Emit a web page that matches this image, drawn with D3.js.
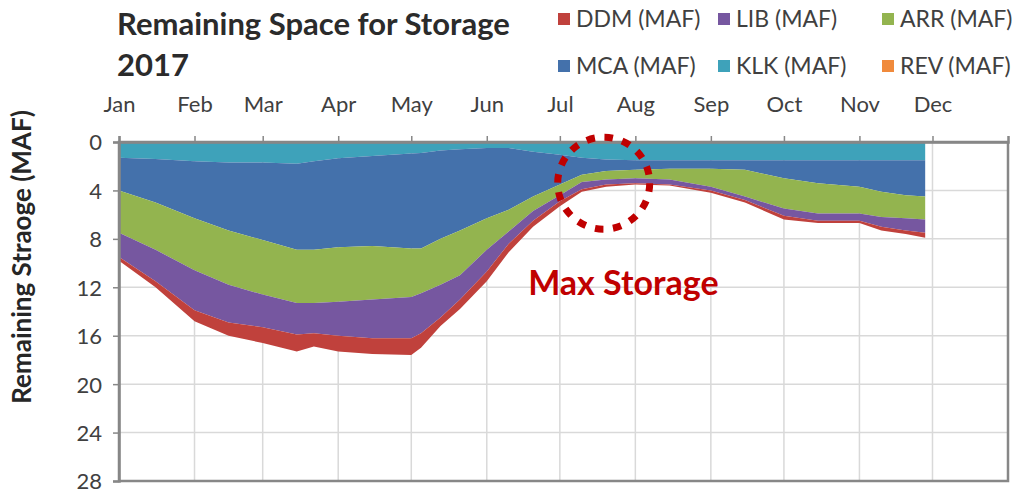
<!DOCTYPE html>
<html>
<head>
<meta charset="utf-8">
<script src="https://cdn.jsdelivr.net/npm/d3@7"></script>
<style>
  body { margin: 0; background: #fff; }
  text { font-family: Lato, "Liberation Sans", sans-serif; }
</style>
</head>
<body>
<div id="chart"></div>
<script>
// sample dates (2017)
const dates = ["2017-01-01","2017-01-16","2017-02-01","2017-02-15","2017-03-01","2017-03-15","2017-03-22",
  "2017-04-01","2017-04-15","2017-05-01","2017-05-05","2017-05-13","2017-05-21","2017-06-01","2017-06-10",
  "2017-06-20","2017-07-01","2017-07-10","2017-07-20","2017-08-01","2017-08-15","2017-09-01","2017-09-15",
  "2017-10-01","2017-10-15","2017-11-01","2017-11-10","2017-11-20","2017-11-28"];

// remaining space per reservoir (MAF), stacked from 0 downward
const REV = [0,0,0,0,0,0,0,0,0,0,0,0,0,0,0,0,0,0,0,0,0,0,0,0,0,0,0,0,0];
const KLK = [1.3,1.4,1.6,1.7,1.7,1.8,1.6,1.35,1.15,0.95,0.9,0.7,0.6,0.5,0.5,0.8,1.05,1.3,1.45,1.5,1.5,1.5,1.5,1.5,1.5,1.5,1.5,1.5,1.5];
const MCA = [2.7,3.6,4.7,5.6,6.4,7.1,7.3,7.35,7.45,7.85,7.9,7.3,6.7,5.8,5.1,3.7,2.45,1.4,0.95,0.8,0.7,0.7,0.8,1.5,1.9,2.2,2.6,2.9,3.0];
const ARR = [3.5,3.9,4.3,4.5,4.5,4.4,4.4,4.5,4.4,4.0,3.7,3.8,3.7,2.6,1.8,1.2,0.9,0.6,0.7,0.7,0.9,1.5,2.2,2.5,2.5,2.2,2.1,1.9,1.9];
const LIB = [2.0,2.6,3.3,3.1,2.7,2.6,2.5,2.8,3.2,3.4,3.3,2.7,2.0,1.8,1.0,0.8,0.5,0.6,0.4,0.4,0.4,0.3,0.3,0.6,0.6,0.6,0.8,1.0,1.1];
const DDM = [0.3,0.5,0.9,1.1,1.3,1.4,1.1,1.3,1.3,1.4,1.2,0.7,0.8,0.8,0.7,0.5,0.4,0.2,0.2,0.1,0.1,0.2,0.2,0.3,0.2,0.2,0.3,0.3,0.4];

const months = ["Jan","Feb","Mar","Apr","May","Jun","Jul","Aug","Sep","Oct","Nov","Dec"];
const yTicks = [0,4,8,12,16,20,24,28];

const legendNames = ["DDM (MAF)","LIB (MAF)","ARR (MAF)","MCA (MAF)","KLK (MAF)","REV (MAF)"];
const stackKeys = ["REV","KLK","MCA","ARR","LIB","DDM"];
const colors = {DDM:"#c0413c", LIB:"#7657a0", ARR:"#93b44f", MCA:"#4471ab", KLK:"#3ea2ba", REV:"#f08a3c"};

const width = 1018, height = 493;
const margin = {left: 119, right: 10, top: 142, bottom: 12};

const parse = d3.timeParse("%Y-%m-%d");
const rows = dates.map((d, i) => ({
  date: parse(d), REV: REV[i], KLK: KLK[i], MCA: MCA[i], ARR: ARR[i], LIB: LIB[i], DDM: DDM[i]
}));

const svg = d3.select("#chart").append("svg")
  .attr("width", width)
  .attr("height", height);

const x = d3.scaleTime()
  .domain([new Date(2017, 0, 1), new Date(2018, 0, 1)])
  .range([margin.left, width - margin.right]);

const y = d3.scaleLinear()
  .domain([0, 28])
  .range([margin.top, height - margin.bottom]);

const monthDates = months.map((m, i) => new Date(2017, i, 1));

// gridlines
svg.append("g").selectAll("line.h")
  .data(yTicks.slice(1, -1))
  .join("line")
  .attr("x1", x.range()[0]).attr("x2", x.range()[1])
  .attr("y1", d => y(d)).attr("y2", d => y(d))
  .attr("stroke", "#d9d9d9").attr("stroke-width", 1.5);

svg.append("g").selectAll("line.v")
  .data(monthDates.slice(1))
  .join("line")
  .attr("x1", d => x(d)).attr("x2", d => x(d))
  .attr("y1", y(0)).attr("y2", y(28))
  .attr("stroke", "#d9d9d9").attr("stroke-width", 1.5);

// stacked areas
const stack = d3.stack().keys(stackKeys);
const series = stack(rows);

const area = d3.area()
  .x(d => x(d.data.date))
  .y0(d => y(d[0]))
  .y1(d => y(d[1]));

svg.append("g").selectAll("path")
  .data(series)
  .join("path")
  .attr("d", area)
  .attr("fill", d => colors[d.key]);

// plot border
svg.append("rect")
  .attr("x", x.range()[0]).attr("y", y(0))
  .attr("width", x.range()[1] - x.range()[0])
  .attr("height", y(28) - y(0))
  .attr("fill", "none")
  .attr("stroke", "#878787").attr("stroke-width", 2.5);

// axes
const xAxis = d3.axisTop(x)
  .tickValues(monthDates)
  .tickFormat(d3.timeFormat("%b"))
  .tickSize(6)
  .tickPadding(24);

const gx = svg.append("g")
  .attr("transform", `translate(0,${y(0)})`)
  .call(xAxis);

const yAxis = d3.axisLeft(y)
  .tickValues(yTicks)
  .tickSize(6)
  .tickPadding(11);

const gy = svg.append("g")
  .attr("transform", `translate(${x.range()[0]},0)`)
  .call(yAxis);

[gx, gy].forEach(g => {
  g.select(".domain").attr("stroke", "#878787").attr("stroke-width", 2.5);
  g.selectAll(".tick line").attr("stroke", "#878787").attr("stroke-width", 1.5);
  g.selectAll(".tick text")
    .attr("fill", "#404040")
    .style("font-size", "22px")
    .style("font-family", "Lato, sans-serif");
});
gy.selectAll(".tick text").attr("dy", "0.36em");

// y axis title
svg.append("text")
  .attr("transform", `translate(31,257) rotate(-90)`)
  .attr("text-anchor", "middle")
  .attr("fill", "#262626")
  .style("font-size", "26px")
  .style("font-weight", "bold")
  .text("Remaining Straoge (MAF)");

// title
svg.append("text")
  .attr("x", 117).attr("y", 35)
  .attr("fill", "#2b2b2b")
  .style("font-size", "31px")
  .style("font-weight", "bold")
  .text("Remaining Space for Storage");
svg.append("text")
  .attr("x", 117).attr("y", 76)
  .attr("fill", "#2b2b2b")
  .style("font-size", "31px")
  .style("font-weight", "bold")
  .text("2017");

// legend
const legendKeys = ["DDM","LIB","ARR","MCA","KLK","REV"];
const legCols = [558, 718, 882];
const legRows = [19, 66];
const leg = svg.append("g").selectAll("g")
  .data(legendKeys)
  .join("g")
  .attr("transform", (d, i) => `translate(${legCols[i % 3]},${legRows[Math.floor(i / 3)]})`);
leg.append("rect")
  .attr("x", 0).attr("y", -6)
  .attr("width", 12).attr("height", 12)
  .attr("fill", d => colors[d]);
leg.append("text")
  .attr("x", 18).attr("y", 0)
  .attr("dy", "0.36em")
  .attr("fill", "#404040")
  .style("font-size", "23px")
  .text((d, i) => legendNames[i]);

// annotation
svg.append("circle")
  .attr("cx", x(new Date(2017, 6, 19)))
  .attr("cy", y(3.4))
  .attr("r", 46)
  .attr("fill", "none")
  .attr("stroke", "#c00000")
  .attr("stroke-width", 7)
  .attr("stroke-dasharray", "8.5 9.6");

svg.append("text")
  .attr("x", x(new Date(2017, 5, 18)))
  .attr("y", y(12.64))
  .attr("fill", "#c00000")
  .style("font-size", "34px")
  .style("font-weight", "bold")
  .text("Max Storage");
</script>
</body>
</html>
